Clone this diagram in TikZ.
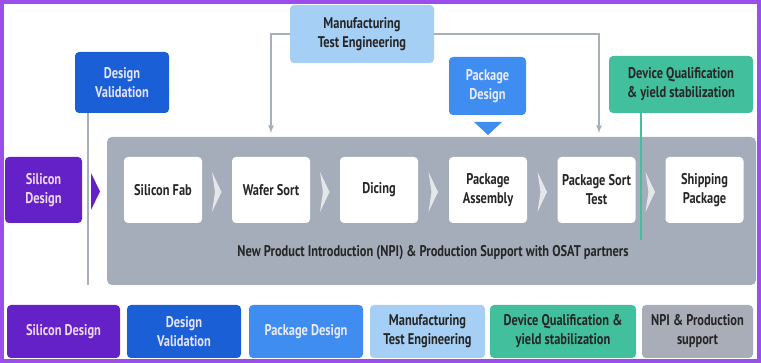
\documentclass[tikz,border=0pt]{standalone}
\usepackage{fontspec}
\setmainfont{PT Sans}[FakeStretch=0.8]
\usetikzlibrary{arrows}
\definecolor{frm}{HTML}{9B4DEE}
\definecolor{sil}{HTML}{6421C8}
\definecolor{dval}{HTML}{1A5FD6}
\definecolor{pkg}{HTML}{3F8DF0}
\definecolor{mte}{HTML}{A6CFF5}
\definecolor{qual}{HTML}{42BF9D}
\definecolor{npig}{HTML}{A9ADB7}
\definecolor{pan}{HTML}{A6ADBA}
\definecolor{ln}{HTML}{A9AFBA}
\tikzset{bx/.append style={rounded corners=4pt, align=center, inner sep=0pt, font=\fontsize{15.5}{19}\selectfont\bfseries}}
\tikzset{st/.append style={bx, fill=white, text=black!85, minimum width=78pt, minimum height=66pt}}
\tikzset{lg/.append style={bx, minimum height=53pt}}
\tikzset{cn/.append style={draw=ln, line width=1.6pt}}

\begin{document}
\begin{tikzpicture}[x=1pt,y=-1pt]
                \useasboundingbox (0,0) rectangle (761,363);
                % roles on top
                \node[bx,fill=mte,text=black!85,minimum width=144pt,minimum height=58pt] (mt) at (362,34) {Manufacturing\\Test Engineering};
                \node[bx,fill=dval,text=white!90!blue,minimum width=94pt,minimum height=61pt] (dv) at (122,82.5) {Design\\Validation};
                \node[bx,fill=pkg,text=white!92!blue,minimum width=77pt,minimum height=58pt] (pd) at (487.5,86) {Package\\Design};
                \node[bx,fill=qual,text=black!85,minimum width=144pt,minimum height=57pt] (dq) at (681,84.5) {Device Qualification\\\& yield stabilization};
                \node[bx,fill=sil,text=white!85!violet,minimum width=77pt,minimum height=66pt] (sd) at (43.5,190) {Silicon\\Design};
                \fill[pkg] (474,122) -- (502,122) -- (488,135) -- cycle;
                \fill[sil] (91,173) -- (100,191.5) -- (91,210) -- cycle;
                % NPI panel
                \node[fill=pan,rounded corners=5pt,minimum width=649pt,minimum height=148pt,inner sep=0pt] (np) at (431.5,211) {};
                \node[font=\fontsize{15.5}{19}\selectfont\bfseries,text=black!85] (nt) at (433,253) {New Product Introduction (NPI) \& Production Support with OSAT partners};
                \node[st] (s1) at (163,190) {Silicon Fab};
                \node[st] (s2) at (271,190) {Wafer Sort};
                \node[st] (s3) at (379,190) {Dicing};
                \node[st] (s4) at (488,190) {Package\\Assembly};
                \node[st] (s5) at (596.5,190) {Package Sort\\Test};
                \node[st] (s6) at (704.5,190) {Shipping\\Package};
                \foreach \x in {217,325,433.5,542.5,650.5}
                    \fill[white!70!pan] (\x-5,172) -- (\x+4.5,192) -- (\x-5,212) -- (\x-2,192) -- cycle;
                % connectors
                \coordinate (t1) at (271,133);
                \coordinate (t2) at (599,133);
                \coordinate (d1) at (88,285);
                \coordinate (q1) at (641,240);
                \draw[cn,-latex] (mt.west) -| (t1);
                \draw[cn,-latex] (mt.east) -| (t2);
                \draw[cn] (d1 |- dv.south) -- (d1);
                \draw[draw=qual,line width=1.6pt] (q1 |- dq.south) -- (q1);
                % legend
                \node[lg,fill=sil,text=white!85!violet,minimum width=113pt] (l1) at (63.5,331.5) {Silicon Design};
                \node[lg,fill=dval,text=white!90!blue,minimum width=114pt] (l2) at (184,331.5) {Design\\Validation};
                \node[lg,fill=pkg,text=white!92!blue,minimum width=114pt] (l3) at (306,331.5) {Package Design};
                \node[lg,fill=mte,text=black!85,minimum width=115pt] (l4) at (427.5,331.5) {Manufacturing\\Test Engineering};
                \node[lg,fill=qual,text=black!85,minimum width=146pt] (l5) at (563,331.5) {Device Qualification \&\\yield stabilization};
                \node[lg,fill=npig,text=black!85,minimum width=111pt] (l6) at (697.5,331.5) {NPI \& Production\\support};
                \draw[frm,line width=4pt] (2,2) rectangle (759,361);
            \end{tikzpicture}
\end{document}
